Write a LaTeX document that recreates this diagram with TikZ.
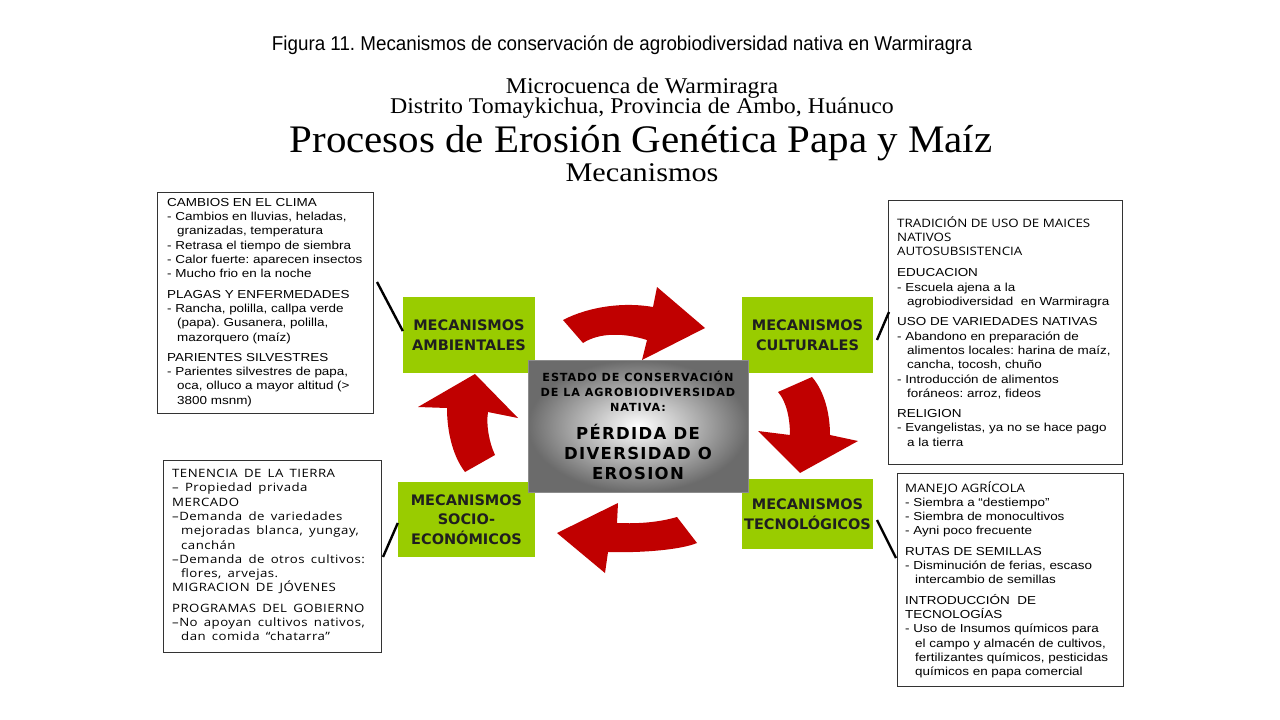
\documentclass[tikz,border=0pt]{standalone}
\usepackage{fontspec}
\setmainfont{Liberation Sans}
\newfontfamily\capf[FakeStretch=0.94]{Liberation Sans}
\newfontfamily\arialx[FakeStretch=1.16]{Liberation Sans}
\newfontfamily\serA[FakeStretch=1.06]{Liberation Serif}
\newfontfamily\serB[FakeStretch=1.05]{Liberation Serif}
\newfontfamily\serC[FakeStretch=1.12]{Liberation Serif}
\newfontfamily\humx[FakeStretch=1.15]{Open Sans}
\newfontfamily\humw[FakeStretch=1.15,LetterSpace=4,WordSpace=1.6]{Open Sans}
\newfontfamily\dvs{DejaVu Sans}
\newfontfamily\dvsls[LetterSpace=8]{DejaVu Sans}
\newfontfamily\dvslb[LetterSpace=8]{DejaVu Sans}
\usetikzlibrary{calc}
\definecolor{mgreen}{RGB}{153,204,0}
\definecolor{ared}{RGB}{192,0,0}
\newcommand\hg{\hspace*{10pt}}
\newcommand\hgb{\hspace*{9pt}}
\newcommand\hu[1]{{\humx #1}}
\frenchspacing
\begin{document}
\begin{tikzpicture}[x=1pt,y=-1pt,
  mech/.style={fill=mgreen, draw=none, text=black!88, font=\dvs\bfseries\fontsize{14.5}{19.5}\selectfont, align=center, inner sep=0pt},
  infobox/.style={draw=black!80, line width=0.9pt, fill=white, inner sep=0pt, anchor=north west},
  infotext/.style={anchor=north west, align=left, inner sep=0pt, font=\arialx\fontsize{11.6}{14.3}\selectfont},
  conn/.style={line width=2.4pt, black},
  redarrow/.style={fill=ared, draw=none}]
\fill[white] (0,0) rectangle (1280,720);
\useasboundingbox (0,0) rectangle (1280,720);

% titles
\node[anchor=base, inner sep=0pt, font=\capf\fontsize{20}{22}\selectfont] (cap) at (622,50) {Figura 11. Mecanismos de conservación de agrobiodiversidad nativa en Warmiragra};
\node[anchor=base, inner sep=0pt, font=\serA\fontsize{22.5}{24}\selectfont] (t1) at (642,93) {Microcuenca de Warmiragra};
\node[anchor=base, inner sep=0pt, font=\serA\fontsize{22.5}{24}\selectfont] (t2) at (642,113) {Distrito Tomaykichua, Provincia de Ambo, Huánuco};
\node[anchor=base, inner sep=0pt, font=\serB\fontsize{39}{40}\selectfont] (t3) at (641,152) {Procesos de Erosión Genética Papa y Maíz};
\node[anchor=base, inner sep=0pt, font=\serC\fontsize{27}{28}\selectfont] (t4) at (642,181) {Mecanismos};

% info boxes
\node[infobox, minimum width=216pt, minimum height=221pt] (lt) at (157,192) {};
\node[infotext] (ltx) at ($(lt.north west)+(10,6)$) {CAMBIOS EN EL CLIMA\\
- Cambios en lluvias, heladas,\\
\hg granizadas, temperatura\\
- Retrasa el tiempo de siembra\\
- Calor fuerte: aparecen insectos\\
- Mucho frio en la noche\\[6pt]
PLAGAS Y ENFERMEDADES\\
- Rancha, polilla, callpa verde\\
\hg (papa). Gusanera, polilla,\\
\hg mazorquero (maíz)\\[6pt]
PARIENTES SILVESTRES\\
- Parientes silvestres de papa,\\
\hg oca, olluco a mayor altitud (>\\
\hg 3800 msnm)};

\node[infobox, minimum width=218pt, minimum height=192pt] (lb) at (163,460) {};
\node[infotext, font=\humw\fontsize{11.5}{14.3}\selectfont] (lbx) at ($(lb.north west)+(9,9)$) {TENENCIA DE LA TIERRA\\
– Propiedad privada\\
MERCADO\\
–Demanda de variedades\\
\hgb mejoradas blanca, yungay,\\
\hgb canchán\\
–Demanda de otros cultivos:\\
\hgb flores, arvejas.\\
MIGRACION DE JÓVENES\\[6pt]
PROGRAMAS DEL GOBIERNO\\
–No apoyan cultivos nativos,\\
\hgb dan comida “chatarra”};

\node[infobox, minimum width=234pt, minimum height=264pt] (rt) at (888,200) {};
\node[infotext] (rtx) at ($(rt.north west)+(9,16)$) {\hu{TRADICIÓN DE USO DE MAICES}\\
\hu{NATIVOS}\\
\hu{AUTOSUBSISTENCIA}\\[7pt]
EDUCACION\\
- Escuela ajena a la\\
\hg agrobiodiversidad\ \ en Warmiragra\\[6pt]
USO DE VARIEDADES NATIVAS\\
- Abandono en preparación de\\
\hg alimentos locales: harina de maíz,\\
\hg cancha, tocosh, chuño\\
- Introducción de alimentos\\
\hg foráneos: arroz, fideos\\[6pt]
RELIGION\\
- Evangelistas, ya no se hace pago\\
\hg a la tierra};

\node[infobox, minimum width=226pt, minimum height=213pt] (rb) at (897,473) {};
\node[infotext] (rbx) at ($(rb.north west)+(8,8)$) {\hu{MANEJO AGRÍCOLA}\\
- Siembra a “destiempo”\\
- Siembra de monocultivos\\
- Ayni poco frecuente\\[6pt]
RUTAS DE SEMILLAS\\
- Disminución de ferias, escaso\\
\hg intercambio de semillas\\[6pt]
INTRODUCCIÓN\ \ DE\\
TECNOLOGÍAS\\
- Uso de Insumos químicos para\\
\hg el campo y almacén de cultivos,\\
\hg fertilizantes químicos, pesticidas\\
\hg químicos en papa comercial};

% mechanism boxes
\node[mech, minimum width=132pt, minimum height=76pt] (amb) at (469,335) {MECANISMOS\\AMBIENTALES};
\node[mech, minimum width=131pt, minimum height=76pt] (cul) at (807.5,335) {MECANISMOS\\CULTURALES};
\node[mech, minimum width=137pt, minimum height=75pt] (soc) at (466.5,519.5) {MECANISMOS\\SOCIO-\\ECONÓMICOS};
\node[mech, minimum width=131pt, minimum height=70pt] (tec) at (807.5,514) {MECANISMOS\\TECNOLÓGICOS};

% center box
\node[minimum width=220pt, minimum height=132pt, inner sep=0pt, draw=black!45, line width=0.6pt,
      inner color=white, outer color=black!58] (ctr) at (638,426) {};
\node[align=center, inner sep=0pt, font=\dvsls\bfseries\fontsize{11.2}{15}\selectfont] (ctra) at (638,391) {ESTADO DE CONSERVACIÓN\\DE LA AGROBIODIVERSIDAD\\NATIVA:};
\node[align=center, inner sep=0pt, font=\dvslb\bfseries\fontsize{16.5}{20}\selectfont] (ctrb) at (638,452) {PÉRDIDA DE\\DIVERSIDAD O\\EROSION};

% red cycle arrows
\fill[redarrow] (563,320) .. controls (590,306) and (625,302) .. (653,307) -- (657,287) -- (705,328)
  -- (642,360) -- (647,340) .. controls (625,333) and (600,332) .. (583,343) -- cycle;
\fill[redarrow] (778,392) -- (812,377) .. controls (825,392) and (830,415) .. (830,435) -- (858,441)
  -- (800,473) -- (758,431) -- (790,435) .. controls (790,420) and (787,402) .. (778,392) -- cycle;
\fill[redarrow] (677,517) -- (697,543) .. controls (680,550) and (640,553) .. (608,552) -- (605,573)
  -- (557,533) -- (618,503) -- (617,523) .. controls (640,524) and (660,522) .. (677,517) -- cycle;
\fill[redarrow] (495,455) -- (465,472) .. controls (452,455) and (447,430) .. (447,408) -- (418,407)
  -- (475,374) -- (518,418) -- (488,412) .. controls (486,425) and (489,442) .. (495,455) -- cycle;

% connectors
\coordinate (c1) at (377,282);
\coordinate (c2) at (383,557);
\coordinate (c3) at (889,312);
\coordinate (c4) at (896,558);
\coordinate (e1) at (403,331);
\coordinate (e2) at (398,523);
\coordinate (e3) at (877,340);
\coordinate (e4) at (877,520);
\draw[conn] (c1) -- (e1 -| amb.west);
\draw[conn] (c2) -- (e2 -| soc.west);
\draw[conn] (c3) -- (e3);
\draw[conn] (c4) -- (e4);
\end{tikzpicture}
\end{document}
